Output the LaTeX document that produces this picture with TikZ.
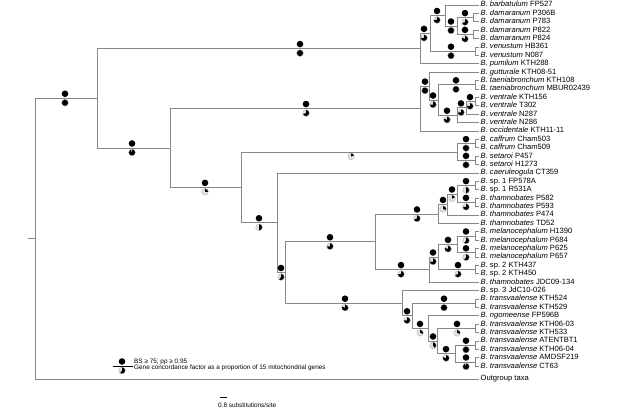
\documentclass[tikz,border=0pt]{standalone}
\usepackage{fontspec}
\setmainfont{Liberation Sans}
\usepackage{tikz}
\usetikzlibrary{positioning, calc}
\definecolor{branchgray}{RGB}{135,135,135}
\tikzset{pics/gcf/.style={code={
  \fill[gray!22] (0,0) circle[radius=\r pt];
  \fill (0,0) -- (90:\r pt) arc[start angle=90, delta angle=-360*#1, radius=\r pt] -- cycle;
  \draw[gray!70, line width=0.3pt] (0,0) circle[radius=\r pt];}}}

\begin{document}
\begin{tikzpicture}[x=1pt,y=-1pt,
  branch/.style={draw=branchgray, line width=0.9pt},
  taxon/.style={anchor=west, inner sep=1.5pt, text height=5.4pt, text depth=1.6pt, font=\fontsize{7.6}{8}\selectfont},
  note/.style={anchor=west, inner sep=0pt, font=\fontsize{6.4}{7}\selectfont}]
\useasboundingbox (0,0) rectangle (624,412);
\def\r{3.3}
\foreach \i/\sp/\id in {1/barbatulum/FP527, 2/damaranum/P306B, 3/damaranum/P783, 4/damaranum/P822,
  5/damaranum/P824, 6/venustum/HB361, 7/venustum/N087, 8/pumilum/KTH288, 9/gutturale/KTH08-51,
  10/taeniabronchum/KTH108, 11/taeniabronchum/MBUR02439, 12/ventrale/KTH156, 13/ventrale/T302,
  14/ventrale/N287, 15/ventrale/N286, 16/occidentale/KTH11-11, 17/caffrum/Cham503, 18/caffrum/Cham509,
  19/setaroi/P457, 20/setaroi/H1273, 21/caeruleogula/CT359, 22/\upshape sp.~1/FP578A, 23/\upshape sp.~1/R531A,
  24/thamnobates/P582, 25/thamnobates/P593, 26/thamnobates/P474, 27/thamnobates/TD52,
  28/melanocephalum/H1390, 29/melanocephalum/P684, 30/melanocephalum/P625, 31/melanocephalum/P657,
  32/\upshape sp.~2/KTH437, 33/\upshape sp.~2/KTH450, 34/thamnobates/JDC09-134, 35/\upshape sp.~3/JdC10-026,
  36/transvaalense/KTH524, 37/transvaalense/KTH529, 38/ngomeense/FP596B, 39/transvaalense/KTH06-03,
  40/transvaalense/KTH533, 41/transvaalense/ATENTBT1, 42/transvaalense/KTH06-04,
  43/transvaalense/AMDSF219, 44/transvaalense/CT63}{
  \pgfmathsetmacro{\yy}{5+8.4*(\i-1)}
  \node[taxon] (l\i) at (479,\yy) {\textit{B. \sp} \id};
}
\node[taxon] (og) at (479,379) {Outgroup taxa};
\foreach \nd/\xx/\ca/\cb in {D1/473/l2/l3, D2/473/l4/l5, D/457/D1/D2, BD/445/l1/D, Ven/475/l6/l7,
  Y/430/BD/Ven, X/420/Y/l8, Tb/475/l10/l11, V1/475/l12/l13, V2/466/V1/l14, V3/457/V2/l15,
  Nb/438/Tb/V3, Na/429/l9/Nb, C2/420/Na/l16, Caf/475/l17/l18, Set/475/l19/l20, CS/457/Caf/Set,
  SP1/475/l22/l23, Th1/475/l24/l25, S/457/SP1/Th1, S2/447/S/l26, S3/438/S2/l27,
  M1/475/l28/l29, M2/475/l30/l31, M/457/M1/M2, SP2/475/l32/l33, MS/438/M/SP2, MST/429/MS/l34,
  T/375/S3/MST, TK/475/l36/l37, P/475/l39/l40, Q1/475/l41/l42, Q2/475/l43/l44, Q/455/Q1/Q2,
  L/437/P/Q, K/428/l38/L, J/412/TK/K, I/402/l35/J, G/285/T/I, F/277/l21/G, E/241/CS/F,
  B/170/C2/E, A/97/X/B, R/35/A/og}{
  \path let \p1=(\ca), \p2=(\cb) in coordinate (\nd) at (\xx pt,{0.5*(\y1+\y2)});
}
\def\edges{R/A/65/1/1, A/X/300/1/1, X/Y/424/1/0.75, Y/BD/437/1/0.75, BD/D/451/1/1, D/D1/465/1/0.7,
  D/D2/465/1/0.8, Y/Ven/451/1/1, A/B/132/1/0.93, B/C2/306/1/0.7, C2/Na/425/1/1, Na/Nb/433/1/0.75,
  Nb/Tb/456/1/1, Nb/V3/447/1/0.8, V3/V2/461/1/0.75, V2/V1/470/1/0.75, B/E/205/1/0.25, E/CS/351/0/0.2,
  CS/Caf/466/1/1, CS/Set/466/1/1, E/F/259/1/0.5, F/G/281/1/0.6, G/T/330/1/0.75, T/S3/417/1/0.7,
  S3/S2/443/1/0.3, S2/S/452/1/0.2, S/SP1/466/1/0.5, S/Th1/466/1/0.75, T/MST/401/1/0.75,
  MST/MS/433/1/0.75, MS/M/448/1/0.8, M/M1/466/1/0.6, M/M2/466/1/0.6, MS/SP2/458/1/0.7,
  G/I/345/1/0.8, I/J/407/1/0.75, J/TK/444/1/1, J/K/420/1/0.3, K/L/433/1/0.4, L/P/457/1/0.3,
  L/Q/446/1/0.8, Q/Q1/466/1/1, Q/Q2/466/1/0.93}
\foreach \pa/\i in {BD/1, D1/2, D1/3, D2/4, D2/5, Ven/6, Ven/7, X/8, Na/9, Tb/10, Tb/11, V1/12, V1/13,
  V2/14, V3/15, C2/16, Caf/17, Caf/18, Set/19, Set/20, F/21, SP1/22, SP1/23, Th1/24, Th1/25, S2/26,
  S3/27, M1/28, M1/29, M2/30, M2/31, SP2/32, SP2/33, MST/34, I/35, TK/36, TK/37, K/38, P/39, P/40,
  Q1/41, Q1/42, Q2/43, Q2/44}
  \draw[branch] (\pa) |- (l\i.west);
\draw[branch] (R) |- (og.west);
\coordinate (stub) at ([xshift=-7pt]R);
\draw[branch] (stub) -- (R);
\foreach \pa/\ch/\mx/\bs/\cf in \edges
  \draw[branch] (\pa) |- (\ch);
\foreach \pa/\ch/\mx/\bs/\cf in \edges{
  \path let \p1=(\ch) in coordinate (bs) at (\mx pt,\y1+4.5pt) coordinate (cf) at (\mx pt,\y1-4.5pt);
  \ifnum\bs=1 \fill (bs) circle[radius=\r pt];\fi
  \pic at (cf) {gcf=\cf};
}
\fill (122,361.5) circle[radius=\r pt];
\pic at (122,370.5) {gcf=0.6};
\coordinate (key1) at (113,366);
\coordinate (key2) at (133,366);
\draw[line width=0.5pt] (key1) -- (key2);
\node[note] (bslab) at (134,361.5) {BS ≥ 75; pp ≥ 0.95};
\node[note] (gcflab) at (134,367.8) {Gene concordance factor as a proportion of 15 mitochondrial genes};
\coordinate (bar1) at (220,397);
\coordinate (bar2) at (227,397);
\draw[line width=0.5pt] (bar1) -- (bar2);
\node[note] (barlab) at (218,405) {0.8 substitutions/site};
\end{tikzpicture}
\end{document}
